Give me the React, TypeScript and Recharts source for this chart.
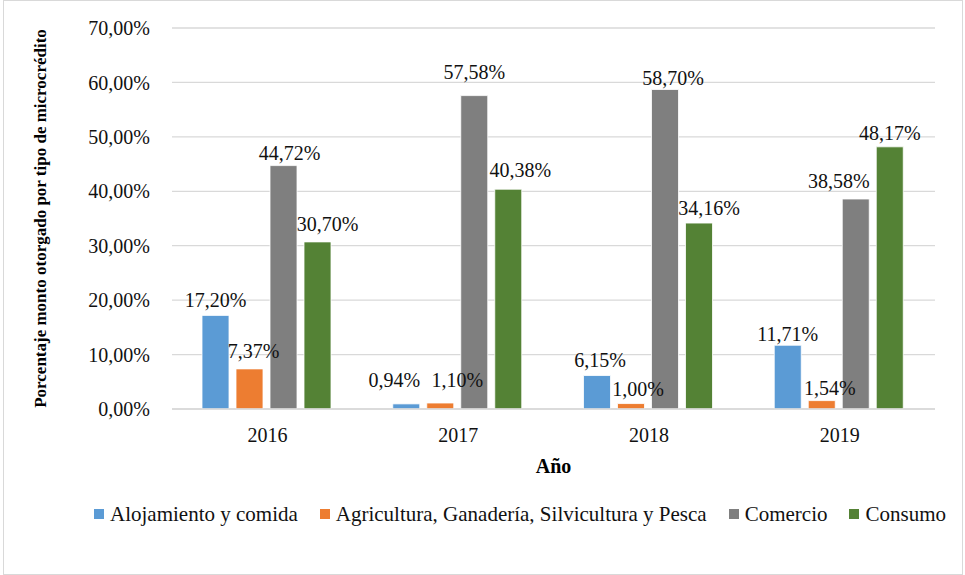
import { BarChart, Bar, XAxis, YAxis, CartesianGrid, Legend, LabelList, Label } from 'recharts';

const years = ['2016', '2017', '2018', '2019'];
const alojamiento = [17.2, 0.94, 6.15, 11.71];
const agricultura = [7.37, 1.1, 1.0, 1.54];
const comercio = [44.72, 57.58, 58.7, 38.58];
const consumo = [30.7, 40.38, 34.16, 48.17];
const yTicks = [0, 10, 20, 30, 40, 50, 60, 70];

const series = [
  { key: 'alojamiento', name: 'Alojamiento y comida', color: '#5B9BD5' },
  { key: 'agricultura', name: 'Agricultura, Ganadería, Silvicultura y Pesca', color: '#ED7D31' },
  { key: 'comercio', name: 'Comercio', color: '#7F7F7F' },
  { key: 'consumo', name: 'Consumo', color: '#548235' },
];

// hand-placed label nudges in the original (dx, dy per year)
const labelNudge: Record<string, [number, number][]> = {
  alojamiento: [[0, -1], [-12, -10], [3, -2], [0, 3]],
  agricultura: [[4, -4], [17, -9], [7, -1], [8, 1]],
  comercio: [[6, 1], [0, -10], [8, 2], [-17, -4]],
  consumo: [[10, -4], [12, -5], [10, -1], [0, 0]],
};

const data = years.map((year, i) => ({
  year,
  alojamiento: alojamiento[i],
  agricultura: agricultura[i],
  comercio: comercio[i],
  consumo: consumo[i],
}));

const FONT = "'Times New Roman', 'Liberation Serif', serif";
const fmt = (v: number) => v.toFixed(2).replace('.', ',') + '%';

const barLabel = (key: string) => (props: any) => {
  const { x, y, width, value, index } = props;
  const [dx, dy] = labelNudge[key][index] || [0, 0];
  return (
    <text
      x={Number(x) + Number(width) / 2 + dx}
      y={Number(y) - 7 + dy}
      textAnchor="middle"
      style={{ fontFamily: FONT, fontSize: 20 }}
      fill="#111"
    >
      {fmt(Number(value))}
    </text>
  );
};

const LegendContent = () => (
  <div
    style={{
      display: 'flex',
      alignItems: 'center',
      height: 30,
      paddingLeft: 74,
      fontFamily: FONT,
      fontSize: 21,
      color: '#111',
      whiteSpace: 'nowrap',
    }}
  >
    {series.map((s) => (
      <div key={s.key} style={{ display: 'flex', alignItems: 'center', marginRight: 22 }}>
        <span style={{ display: 'inline-block', width: 10, height: 10, background: s.color, marginRight: 6 }} />
        <span>{s.name}</span>
      </div>
    ))}
  </div>
);

export default function App() {
  return (
    <div style={{ position: 'absolute', left: 0, top: 0, width: 965, height: 575, background: '#fff', fontFamily: FONT }}>
      <div
        style={{
          position: 'absolute',
          left: 3,
          top: 0,
          width: 960,
          height: 575,
          border: '1px solid #D9D9D9',
          boxSizing: 'border-box',
        }}
      />
      <div style={{ position: 'absolute', left: 0, top: 0 }}>
        <BarChart
          width={965}
          height={575}
          data={data}
          margin={{ top: 28, right: 30, left: 20, bottom: 46 }}
          barCategoryGap={30}
          barGap={7}
          style={{ fontFamily: FONT }}
        >
          <CartesianGrid vertical={false} stroke="#D9D9D9" strokeWidth={1.3} />
          <XAxis
            dataKey="year"
            height={90}
            tickLine={false}
            tickSize={0}
            tickMargin={19}
            axisLine={{ stroke: '#D9D9D9', strokeWidth: 1.5 }}
            tick={{ fontSize: 20, fill: '#111', style: { fontFamily: FONT } }}
          >
            <Label
              content={(props: any) => {
                const vb = props.viewBox || {};
                return (
                  <text
                    x={vb.x + vb.width / 2}
                    y={vb.y + 64}
                    textAnchor="middle"
                    style={{ fontFamily: FONT, fontSize: 20, fontWeight: 'bold' }}
                    fill="#000"
                  >
                    Año
                  </text>
                );
              }}
            />
          </XAxis>
          <YAxis
            width={152}
            domain={[0, 70]}
            ticks={yTicks}
            tickFormatter={fmt}
            axisLine={false}
            tickLine={false}
            tickSize={0}
            tickMargin={22}
            tick={{ fontSize: 20, fill: '#111', style: { fontFamily: FONT } }}
          >
            <Label
              content={(props: any) => {
                const vb = props.viewBox || {};
                const cx = vb.x + 20;
                const cy = vb.y + vb.height / 2;
                return (
                  <text
                    x={cx}
                    y={cy}
                    transform={`rotate(-90, ${cx}, ${cy})`}
                    textAnchor="middle"
                    dominantBaseline="central"
                    style={{ fontFamily: FONT, fontSize: 17, fontWeight: 'bold' }}
                    fill="#000"
                  >
                    Porcentaje monto otorgado por tipo de microcrédito
                  </text>
                );
              }}
            />
          </YAxis>
          <Legend verticalAlign="bottom" height={30} content={<LegendContent />} />
          {series.map((s) => (
            <Bar key={s.key} dataKey={s.key} name={s.name} fill={s.color} stroke="#fff" strokeWidth={0.8} isAnimationActive={false}>
              <LabelList dataKey={s.key} content={barLabel(s.key)} />
            </Bar>
          ))}
        </BarChart>
      </div>
    </div>
  );
}
